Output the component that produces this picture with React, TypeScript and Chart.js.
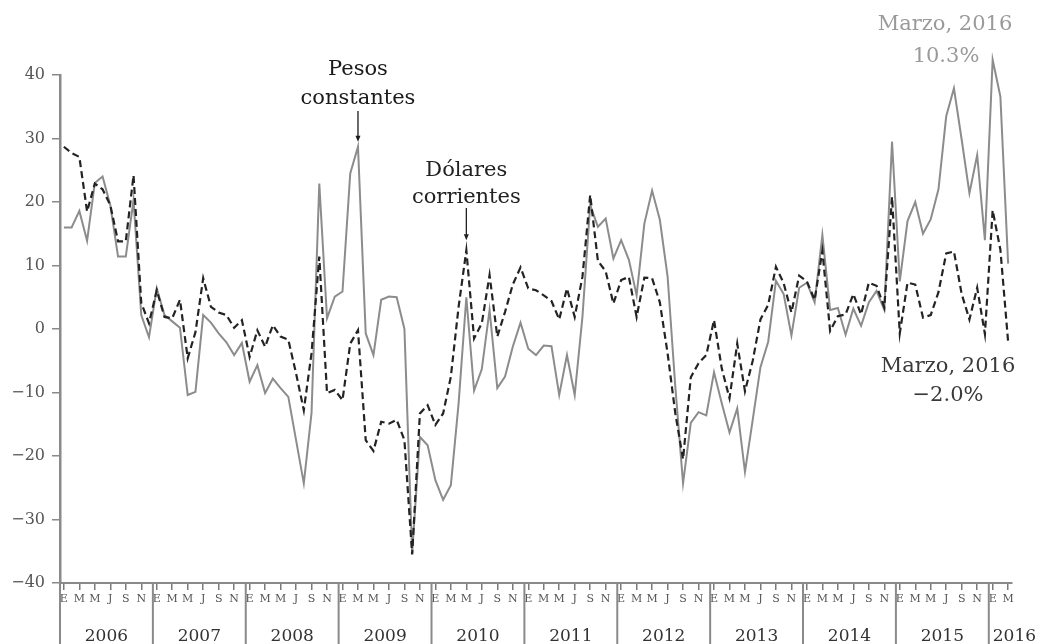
import { useEffect, useRef } from 'react';
import { Chart, registerables } from 'chart.js';

Chart.register(...registerables);

// ---- Data ----
const years = [2006, 2007, 2008, 2009, 2010, 2011, 2012, 2013, 2014, 2015, 2016];
const monthLetters = ['E', 'F', 'M', 'A', 'M', 'J', 'J', 'A', 'S', 'O', 'N', 'D'];
const monthsInLastYear = 3;

// Variación anual (%), pesos constantes (línea gris continua)
const pesosConstantes = [
  16.0, 16.0, 18.6, 13.9, 23.0, 24.0, 19.5, 11.4, 11.4, 20.3, 2.2, -1.3,
  6.4, 2.2, 1.2, 0.2, -10.4, -9.9, 2.2, 1.0, -0.7, -2.1, -4.1, -2.2,
  -8.3, -5.7, -10.1, -7.8, -9.3, -10.7, -17.5, -24.3, -13.2, 22.9, 1.7, 5.1,
  5.9, 24.5, 28.7, -0.7, -4.1, 4.6, 5.1, 5.0, 0.0, -35.3, -17.0, -18.3,
  -23.8, -26.9, -24.6, -11.7, 5.0, -9.7, -6.3, 3.0, -9.3, -7.5, -2.8, 1.0,
  -3.1, -4.1, -2.6, -2.7, -10.4, -4.1, -10.4, 1.9, 19.5, 16.1, 17.4, 11.1,
  14.0, 10.9, 5.3, 16.6, 21.8, 17.2, 8.3, -9.1, -24.3, -14.8, -13.1, -13.6,
  -6.8, -11.7, -16.3, -12.5, -22.5, -14.3, -6.0, -2.0, 7.6, 5.5, -1.0, 6.5,
  7.3, 4.2, 14.8, 3.0, 3.3, -0.9, 3.2, 0.5, 4.2, 6.0, 3.0, 29.5,
  7.5, 17.0, 20.0, 15.0, 17.3, 22.0, 33.5, 37.9, 29.8, 21.4, 27.4, 14.0,
  42.4, 36.6, 10.3,
];

// Variación anual (%), dólares corrientes (línea negra discontinua)
const dolaresCorrientes = [
  28.7, 27.7, 27.1, 18.5, 22.9, 22.0, 19.5, 13.8, 13.8, 24.2, 4.1, 0.9,
  6.1, 1.9, 1.7, 4.6, -4.6, -0.5, 8.0, 3.5, 2.6, 2.2, 0.2, 1.4,
  -4.4, -0.2, -2.8, 0.6, -1.2, -1.7, -7.0, -12.8, -3.8, 11.4, -10.1, -9.6,
  -11.2, -2.3, -0.2, -17.5, -19.2, -14.6, -14.9, -14.3, -17.5, -35.5, -13.3, -12.0,
  -15.1, -13.3, -7.5, 3.5, 12.4, -1.5, 0.9, 8.5, -1.2, 2.7, 7.0, 9.7,
  6.4, 6.1, 5.3, 4.4, 1.5, 6.4, 1.9, 8.2, 21.1, 10.7, 9.1, 4.0,
  7.7, 8.2, 1.9, 8.1, 8.0, 4.2, -3.8, -13.3, -20.5, -7.6, -5.4, -4.1,
  1.4, -6.2, -10.9, -2.3, -9.8, -5.0, 1.5, 3.8, 9.8, 7.2, 2.6, 8.4,
  7.5, 4.6, 12.3, -0.3, 2.0, 2.3, 5.5, 2.3, 7.3, 6.8, 3.4, 20.8,
  -0.7, 7.3, 7.0, 1.8, 2.2, 5.8, 11.9, 12.2, 5.5, 1.5, 6.5, -0.8,
  18.7, 12.5, -2.0,
];

const yMin = -40;
const yMax = 40;
const yStep = 10;

// category labels built from the year / month lists
const categories: string[] = [];
years.forEach((yr, yi) => {
  const n = yi === years.length - 1 ? monthsInLastYear : 12;
  for (let m = 0; m < n; m++) categories.push(`${yr}-${m + 1}`);
});

const SERIF = '"DejaVu Serif", "Liberation Serif", serif';

const decorPlugin = {
  id: 'decor',
  afterDraw(chart: any) {
    const ctx = chart.ctx as CanvasRenderingContext2D;
    const xs = chart.scales.x;
    const ys = chart.scales.y;
    const area = chart.chartArea;
    const cell = xs.getPixelForValue(1) - xs.getPixelForValue(0);
    ctx.save();

    // year separators + year labels
    ctx.strokeStyle = '#8a8a8a';
    ctx.lineWidth = 2;
    ctx.fillStyle = '#333';
    ctx.font = `17px ${SERIF}`;
    ctx.textBaseline = 'alphabetic';
    years.forEach((yr, yi) => {
      const first = yi * 12;
      const last = Math.min(first + 11, categories.length - 1);
      const bx = xs.getPixelForValue(first) - cell / 2;
      ctx.beginPath();
      ctx.moveTo(bx, yi === 0 ? area.top : area.bottom);
      ctx.lineTo(bx, chart.height);
      ctx.stroke();
      if (yi === years.length - 1) {
        ctx.textAlign = 'left';
        ctx.fillText(String(yr), bx + 4, area.bottom + 58);
      } else {
        ctx.textAlign = 'center';
        const cx = (xs.getPixelForValue(first) + xs.getPixelForValue(last)) / 2;
        ctx.fillText(String(yr), cx, area.bottom + 58);
      }
    });

    const arrow = (x: number, y1: number, y2: number, color: string) => {
      ctx.strokeStyle = color;
      ctx.fillStyle = color;
      ctx.lineWidth = 1.3;
      ctx.beginPath();
      ctx.moveTo(x, y1);
      ctx.lineTo(x, y2 - 4);
      ctx.stroke();
      ctx.beginPath();
      ctx.moveTo(x - 2.5, y2 - 6);
      ctx.lineTo(x + 2.5, y2 - 6);
      ctx.lineTo(x, y2);
      ctx.closePath();
      ctx.fill();
    };

    ctx.font = `21px ${SERIF}`;
    ctx.textAlign = 'center';

    // Pesos constantes
    const pIdx = 38;
    const px = xs.getPixelForValue(pIdx);
    ctx.fillStyle = '#1a1a1a';
    ctx.fillText('Pesos', px, 75);
    ctx.fillText('constantes', px, 104);
    arrow(px, 111, ys.getPixelForValue(pesosConstantes[pIdx]) - 5, '#1a1a1a');

    // Dólares corrientes
    const dIdx = 52;
    const dx = xs.getPixelForValue(dIdx);
    ctx.fillStyle = '#222';
    ctx.fillText('Dólares', dx, 176);
    ctx.fillText('corrientes', dx, 203);
    arrow(dx, 208, ys.getPixelForValue(dolaresCorrientes[dIdx]) - 10, '#222');

    // Marzo 2016 labels
    ctx.fillStyle = '#9a9a9a';
    ctx.fillText('Marzo, 2016', 945, 30);
    ctx.fillText('10.3%', 946, 62);
    ctx.fillStyle = '#3a3a3a';
    ctx.fillText('Marzo, 2016', 948, 372);
    ctx.fillText('\u22122.0%', 948, 401);

    ctx.restore();
  },
};

export default function App() {
  const ref = useRef<HTMLCanvasElement | null>(null);

  useEffect(() => {
    document.body.style.margin = '0';
    const canvas = ref.current;
    if (!canvas) return;
    const chart = new Chart(canvas, {
      type: 'line',
      data: {
        labels: categories,
        datasets: [
          {
            label: 'Dólares corrientes',
            data: dolaresCorrientes,
            borderColor: '#232323',
            borderWidth: 2.2,
            borderDash: [7, 4],
            pointRadius: 0,
            tension: 0,
            fill: false,
            clip: false,
          },
          {
            label: 'Pesos constantes',
            data: pesosConstantes,
            borderColor: '#8c8c8c',
            borderWidth: 2,
            pointRadius: 0,
            tension: 0,
            fill: false,
            clip: false,
          },
        ],
      },
      options: {
        responsive: false,
        animation: false,
        events: [],
        layout: { padding: { top: 75, right: 40, left: 0, bottom: 0 } },
        plugins: {
          legend: { display: false },
          tooltip: { enabled: false },
          title: { display: false },
        },
        scales: {
          x: {
            type: 'category',
            offset: true,
            afterFit: (s: any) => {
              s.height = 61;
            },
            border: { display: true, color: '#8a8a8a', width: 2 },
            grid: {
              display: true,
              drawOnChartArea: false,
              drawTicks: true,
              tickLength: 7,
              lineWidth: 1.5,
              color: (c: any) => (c.index % 2 === 0 ? '#7a7a7a' : 'rgba(0,0,0,0)'),
            },
            ticks: {
              autoSkip: false,
              maxRotation: 0,
              minRotation: 0,
              padding: 3,
              color: '#555',
              font: { family: SERIF, size: 11 },
              callback: (_v: any, i: number) => (i % 2 === 0 ? monthLetters[i % 12] : ''),
            },
          },
          y: {
            min: yMin,
            max: yMax,
            afterFit: (s: any) => {
              s.width = 60;
            },
            border: { display: true, color: '#8a8a8a', width: 2.5 },
            grid: {
              display: true,
              drawOnChartArea: false,
              drawTicks: true,
              tickLength: 8,
              color: '#8a8a8a',
              lineWidth: 1.5,
            },
            ticks: {
              stepSize: yStep,
              padding: 7,
              color: '#555',
              font: { family: SERIF, size: 16 },
              callback: (v: any) => (v < 0 ? '\u2212' + Math.abs(v) : String(v)),
            },
          },
        },
      },
      plugins: [decorPlugin],
    } as any);
    return () => chart.destroy();
  }, []);

  return (
    <div style={{ width: 1052, height: 644, background: '#fff' }}>
      <canvas ref={ref} width={1052} height={644} style={{ display: 'block' }} />
    </div>
  );
}
